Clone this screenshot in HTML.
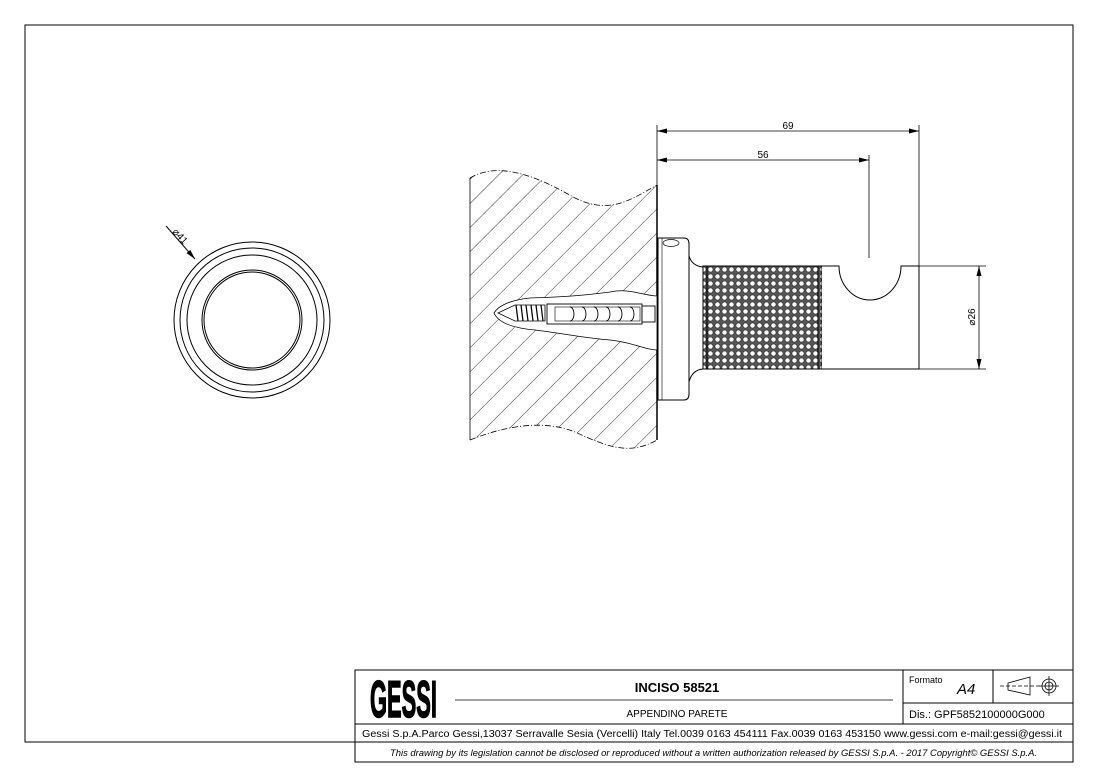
<!DOCTYPE html>
<html><head><meta charset="utf-8"><style>
html,body{margin:0;padding:0;background:#fff;}
svg{display:block;font-family:"Liberation Sans",sans-serif;}
</style></head><body>
<svg width="1099" height="775" viewBox="0 0 1099 775" xmlns="http://www.w3.org/2000/svg">
<defs>
<pattern id="hatch" patternUnits="userSpaceOnUse" width="17" height="17" patternTransform="rotate(45)">
<line x1="0" y1="0" x2="0" y2="17" stroke="#222" stroke-width="0.9"/>
</pattern>
<pattern id="knurl" patternUnits="userSpaceOnUse" width="7" height="7">
<rect width="7" height="7" fill="#555"/>
<circle cx="3.5" cy="3.5" r="2.6" fill="#fff" stroke="#222" stroke-width="0.6"/>
</pattern>
<marker id="ar" markerWidth="10" markerHeight="6" refX="10" refY="3" orient="auto" markerUnits="userSpaceOnUse"><path d="M0,0.5 L10,3 L0,5.5z" fill="#000"/></marker>
<marker id="al" markerWidth="10" markerHeight="6" refX="0" refY="3" orient="auto" markerUnits="userSpaceOnUse"><path d="M10,0.5 L0,3 L10,5.5z" fill="#000"/></marker>
</defs>
<rect x="25" y="25" width="1048" height="717" fill="none" stroke="#000" stroke-width="1"/>

<!-- left circle view -->
<g fill="none" stroke="#000" stroke-width="1">
<circle cx="252" cy="320" r="78"/>
<circle cx="252" cy="320" r="72"/>
<circle cx="252" cy="320" r="65"/>
<circle cx="252" cy="320" r="50"/>
<circle cx="252" cy="320" r="48"/>
<line x1="166" y1="226" x2="195" y2="259" marker-end="url(#ar)"/>
</g>
<text x="172" y="232" font-size="10" transform="rotate(48 172 232)">⌀41</text>

<!-- wall -->
<path d="M470,178 C500,160 540,178 575,198 C610,215 630,200 657,185 L657,440 C630,455 610,448 575,432 C540,418 500,428 470,440 Z" fill="url(#hatch)" stroke="none"/>
<path d="M470,178 C500,160 540,178 575,198 C610,215 630,200 657,185" fill="none" stroke="#000" stroke-width="0.8" stroke-dasharray="6,2,1,2"/>
<path d="M470,440 C500,428 540,418 575,432 C610,448 630,455 657,440" fill="none" stroke="#000" stroke-width="0.8" stroke-dasharray="6,2,1,2"/>
<line x1="470" y1="178" x2="470" y2="440" stroke="#000" stroke-width="0.8"/>
<line x1="657" y1="185" x2="657" y2="440" stroke="#000" stroke-width="1.5"/>

<!-- anchor hole -->
<path d="M657,296 C640,295 630,288 610,292 C580,296 560,297 530,298 C510,300 498,306 494,313 C498,322 512,328 535,330 C560,333 585,338 610,340 C632,342 645,350 657,350 Z" fill="#fff" stroke="#000" stroke-width="0.8"/>
<path d="M498,313 L515,305 L545,305 L545,321 L515,321 Z" fill="#fff" stroke="#000" stroke-width="0.8"/>
<g stroke="#000" stroke-width="1.2">
<line x1="516" y1="305" x2="518" y2="321"/><line x1="521" y1="305" x2="523" y2="321"/><line x1="526" y1="305" x2="528" y2="321"/><line x1="531" y1="305" x2="533" y2="321"/><line x1="536" y1="305" x2="538" y2="321"/><line x1="541" y1="305" x2="543" y2="321"/>
</g>
<rect x="547" y="304" width="95" height="20" fill="#fff" stroke="#000" stroke-width="0.9"/>
<rect x="555" y="307" width="85" height="14" fill="none" stroke="#000" stroke-width="0.6"/>
<g fill="none" stroke="#000" stroke-width="0.9">
<path d="M570,307 a4,7 0 0 1 0,14"/><path d="M582,307 a4,7 0 0 1 0,14"/><path d="M594,307 a4,7 0 0 1 0,14"/><path d="M606,307 a4,7 0 0 1 0,14"/><path d="M618,307 a4,7 0 0 1 0,14"/><path d="M630,307 a4,7 0 0 1 0,14"/>
</g>
<rect x="642" y="306" width="13" height="16" fill="#fff" stroke="#000" stroke-width="0.9"/>

<!-- flange -->
<path d="M658,238 L684,238 Q689,238 689,244 L689,394 Q689,400 684,400 L658,400 Z" fill="#fff" stroke="#000" stroke-width="1"/>
<line x1="662" y1="238" x2="662" y2="400" stroke="#000" stroke-width="0.6"/>
<ellipse cx="671" cy="243" rx="8" ry="3.5" fill="none" stroke="#000" stroke-width="0.7"/>
<path d="M689,256 Q692,266 703,267 M689,382 Q692,370 703,369" fill="none" stroke="#000" stroke-width="1"/>
<rect x="703" y="266" width="119" height="103" fill="url(#knurl)" stroke="#000" stroke-width="1"/>
<line x1="707" y1="266" x2="707" y2="369" stroke="#000"/>
<line x1="818" y1="266" x2="818" y2="369" stroke="#000"/>
<path d="M822,266 L839,266 A31,34 0 0 0 901,266 L919,266 L919,369 L822,369" fill="#fff" stroke="#000" stroke-width="1"/>

<!-- dimensions -->
<g stroke="#000" stroke-width="0.8" fill="none">
<line x1="657" y1="125" x2="657" y2="186"/>
<line x1="919" y1="125" x2="919" y2="266"/>
<line x1="869" y1="155" x2="869" y2="258"/>
<line x1="657" y1="131" x2="919" y2="131" marker-start="url(#al)" marker-end="url(#ar)"/>
<line x1="657" y1="160" x2="869" y2="160" marker-start="url(#al)" marker-end="url(#ar)"/>
<line x1="919" y1="266" x2="986" y2="266"/>
<line x1="919" y1="369" x2="986" y2="369"/>
<line x1="979" y1="266" x2="979" y2="369" marker-start="url(#al)" marker-end="url(#ar)"/>
</g>
<text x="788" y="129" font-size="10" text-anchor="middle">69</text>
<text x="763" y="158" font-size="10" text-anchor="middle">56</text>
<text x="975" y="317" font-size="10" text-anchor="middle" transform="rotate(-90 975 317)">⌀26</text>

<!-- title block -->
<g stroke="#000" stroke-width="1" fill="none">
<rect x="355" y="670" width="718" height="92"/>
<line x1="355" y1="724" x2="1073" y2="724"/>
<line x1="355" y1="742" x2="1073" y2="742"/>
<line x1="903" y1="670" x2="903" y2="724"/>
<line x1="903" y1="703" x2="1073" y2="703"/>
<line x1="993" y1="670" x2="993" y2="703"/>
<line x1="455" y1="700" x2="893" y2="700" stroke-width="0.8"/>
</g>
<text x="370" y="717" font-size="52" font-weight="bold" textLength="67" lengthAdjust="spacingAndGlyphs" stroke="#000" stroke-width="1.5">GESSI</text>
<text x="677" y="692" font-size="13" font-weight="bold" text-anchor="middle">INCISO 58521</text>
<text x="677" y="717" font-size="10" text-anchor="middle">APPENDINO PARETE</text>
<text x="909" y="683" font-size="9">Formato</text>
<text x="957" y="694" font-size="15" font-style="italic">A4</text>
<g stroke="#000" stroke-width="0.8" fill="none">
<path d="M1008,683 L1030,677 L1030,695 L1008,690 Z"/>
<line x1="1000" y1="686" x2="1040" y2="686" stroke-dasharray="4,2"/>
<circle cx="1049" cy="686" r="7"/><circle cx="1049" cy="686" r="4"/>
<line x1="1039" y1="686" x2="1059" y2="686"/><line x1="1049" y1="676" x2="1049" y2="696"/>
</g>
<text x="909" y="718" font-size="11">Dis.: GPF5852100000G000</text>
<text x="362" y="737" font-size="10" textLength="700" lengthAdjust="spacingAndGlyphs">Gessi S.p.A.Parco Gessi,13037 Serravalle Sesia (Vercelli) Italy Tel.0039 0163 454111 Fax.0039 0163 453150 www.gessi.com e-mail:gessi@gessi.it</text>
<text x="390" y="756" font-size="9" font-style="italic" textLength="647" lengthAdjust="spacingAndGlyphs">This drawing by its legislation cannot be disclosed or reproduced without a written authorization released by GESSI S.p.A. - 2017 Copyright© GESSI S.p.A.</text>
</svg>
</body></html>
